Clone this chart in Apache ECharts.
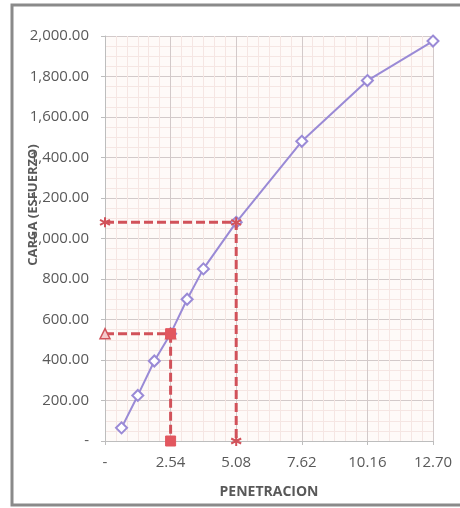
<!DOCTYPE html>
<html>
<head>
<meta charset="utf-8">
<script src="https://cdn.jsdelivr.net/npm/echarts@6/dist/echarts.min.js"></script>
<style>
  html, body { margin: 0; padding: 0; background: #ffffff; }
  #chart { width: 460px; height: 508px; }
</style>
</head>
<body>
<div id="chart"></div>
<script>
// Penetration (mm) and load readings for the CBR curve
const penetracion = [0.64, 1.27, 1.91, 2.54, 3.18, 3.81, 5.08, 7.62, 10.16, 12.70];
const carga = [65, 225, 395, 530, 700, 850, 1080, 1480, 1780, 1975];

// Reference readings at 2.54 mm and 5.08 mm
const pen254 = 2.54;
const carga254 = 530;
const pen508 = 5.08;
const carga508 = 1080;

// Axis settings
const xTicks = [0, 2.54, 5.08, 7.62, 10.16, 12.70];
const yMax = 2000;
const yStep = 200;

const gray = '#595959';
const red = '#d1525a';
const purple = '#9a8ad6';
const font = '"Open Sans", sans-serif';

const chart = echarts.init(document.getElementById('chart'), null, { renderer: 'canvas' });

function fmtY(v) {
  if (v === 0) return '-';
  return v.toLocaleString('en-US', { minimumFractionDigits: 2, maximumFractionDigits: 2 });
}
function fmtX(v) {
  if (Math.abs(v) < 1e-9) return '-';
  return v.toFixed(2);
}

const asterisk = 'path://M0,-10L0,10M-8.66,-5L8.66,5M-8.66,5L8.66,-5';

chart.setOption({
  animation: false,
  backgroundColor: '#ffffff',
  grid: {
    left: 105, right: 27, top: 36, bottom: 67,
    show: true,
    backgroundColor: '#fefaf8',
    borderWidth: 0
  },
  xAxis: {
    type: 'value',
    min: xTicks[0],
    max: xTicks[xTicks.length - 1],
    interval: 2.54,
    name: 'PENETRACION',
    nameLocation: 'middle',
    nameGap: 44,
    nameTextStyle: { color: gray, fontFamily: font, fontSize: 14, fontWeight: 'bold' },
    axisLine: { show: true, lineStyle: { color: '#bdbdbd', width: 1 } },
    axisTick: { show: true, length: 4, lineStyle: { color: '#bdbdbd' } },
    axisLabel: { color: gray, fontFamily: font, fontSize: 15, margin: 14, formatter: fmtX },
    splitLine: { show: true, lineStyle: { color: '#d3caca', width: 1 } },
    minorTick: { show: false, splitNumber: 6 },
    minorSplitLine: { show: true, lineStyle: { color: '#f5e6e3', width: 1 } }
  },
  yAxis: {
    type: 'value',
    min: 0,
    max: yMax,
    interval: yStep,
    axisLine: { show: true, lineStyle: { color: '#bdbdbd', width: 1 } },
    axisTick: { show: true, length: 4, lineStyle: { color: '#bdbdbd' } },
    axisLabel: { color: gray, fontFamily: font, fontSize: 15, margin: 16, formatter: fmtY },
    splitLine: { show: true, lineStyle: { color: '#d3caca', width: 1 } },
    minorTick: { show: false, splitNumber: 4 },
    minorSplitLine: { show: true, lineStyle: { color: '#f5e6e3', width: 1 } }
  },
  graphic: [
    {
      type: 'rect',
      shape: { x: 12, y: 5, width: 470, height: 500 },
      style: { fill: 'none', stroke: '#8a8a8a', lineWidth: 3 },
      z: 100
    },
    {
      type: 'text',
      x: 33, y: 205,
      rotation: Math.PI / 2,
      style: {
        text: 'CARGA (ESFUERZO)',
        fill: gray,
        font: 'bold 13px ' + font,
        align: 'center',
        verticalAlign: 'middle'
      },
      z: 100
    }
  ],
  series: [
    {
      name: 'curva',
      type: 'line',
      data: penetracion.map((p, i) => [p, carga[i]]),
      symbol: 'diamond',
      symbolSize: 11,
      lineStyle: { color: purple, width: 2 },
      itemStyle: { color: '#ffffff', borderColor: purple, borderWidth: 2 },
      z: 3
    },
    {
      name: 'h254',
      type: 'line',
      data: [[0, carga254], [pen254, carga254]],
      symbol: 'triangle',
      symbolSize: 10,
      lineStyle: { color: red, width: 3, type: [9, 4] },
      itemStyle: { color: '#f4c9cb', borderColor: red, borderWidth: 1.5 },
      z: 4
    },
    {
      name: 'v254',
      type: 'line',
      data: [[pen254, carga254], [pen254, 0]],
      symbol: 'rect',
      symbolSize: 10,
      lineStyle: { color: red, width: 3, type: [9, 4] },
      itemStyle: { color: '#e2575f', borderColor: '#e2575f', borderWidth: 1 },
      z: 4
    },
    {
      name: 'p508',
      type: 'line',
      data: [[0, carga508], [pen508, carga508], [pen508, 0]],
      symbol: asterisk,
      symbolSize: 10,
      lineStyle: { color: red, width: 3, type: [9, 4] },
      itemStyle: { color: 'none', borderColor: red, borderWidth: 2 },
      z: 4
    }
  ]
});
</script>
</body>
</html>
